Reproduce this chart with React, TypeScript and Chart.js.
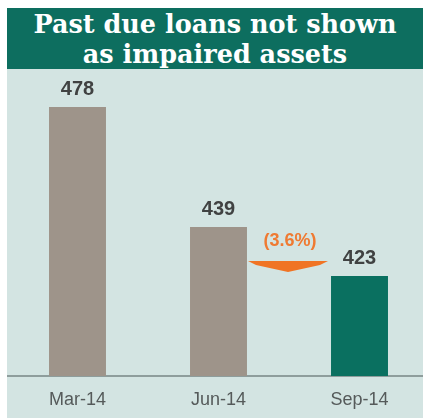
import React, { useEffect, useRef } from "react";
import { Chart, registerables } from "chart.js";

Chart.register(...registerables);

const categories = ["Mar-14", "Jun-14", "Sep-14"];
const values = [478, 439, 423];
const barColors = ["#9e948a", "#9e948a", "#0a7060"];
const changeLabel = "(3.6%)";
const titleLines = ["Past due loans not shown", "as impaired assets"];

const labelPlugin = {
  id: "valueLabels",
  afterDatasetsDraw(chart: any) {
    const ctx = chart.ctx;
    const meta = chart.getDatasetMeta(0);
    ctx.save();
    ctx.font = "bold 20px 'Liberation Sans', Arial, sans-serif";
    ctx.fillStyle = "#404242";
    ctx.textAlign = "center";
    ctx.textBaseline = "alphabetic";
    meta.data.forEach((bar: any, i: number) => {
      ctx.fillText(String(values[i]), bar.x, bar.y - 12);
    });
    // change arrow between last two bars
    const a = meta.data[1] as any;
    const b = meta.data[2] as any;
    const left = a.x + a.width / 2 + 1;
    const right = b.x - b.width / 2 - 3;
    const top = b.y - 15;
    const mid = (left + right) / 2;
    ctx.fillStyle = "#f07424";
    ctx.beginPath();
    ctx.moveTo(left, top);
    ctx.lineTo(right, top);
    ctx.lineTo(right - 8, top + 4);
    ctx.lineTo(mid, top + 11);
    ctx.lineTo(left + 8, top + 4);
    ctx.closePath();
    ctx.fill();
    ctx.font = "bold 18px 'Liberation Sans', Arial, sans-serif";
    ctx.fillStyle = "#ef7a32";
    ctx.fillText(changeLabel, mid + 2, top - 15);
    ctx.restore();
  },
};

export default function App() {
  const ref = useRef<HTMLCanvasElement>(null);
  useEffect(() => {
    document.body.style.margin = "0";
    document.body.style.overflow = "hidden";
    const chart = new Chart(ref.current as HTMLCanvasElement, {
      type: "bar",
      data: {
        labels: categories,
        datasets: [
          {
            data: values,
            backgroundColor: barColors,
            barPercentage: 0.404,
            categoryPercentage: 1,
          },
        ],
      },
      options: {
        animation: false,
        responsive: false,
        maintainAspectRatio: false,
        layout: { padding: { top: 11, left: 0, right: 0, bottom: 0 } },
        plugins: { legend: { display: false }, tooltip: { enabled: false }, title: { display: false } },
        scales: {
          x: {
            grid: { display: false, drawTicks: false },
            border: { display: true, color: "#8e9d9c", width: 2 },
            ticks: {
              color: "#555a5a",
              font: { family: "'Liberation Sans', Arial, sans-serif", size: 18 },
              padding: 13,
            },
            afterFit: (scale: any) => {
              scale.height = 42;
            },
          },
          y: {
            display: false,
            min: 390.5,
            max: 486.8,
          },
        },
      },
      plugins: [labelPlugin],
    });
    return () => chart.destroy();
  }, []);

  return (
    <div style={{ position: "relative", width: 423, height: 418, background: "#ffffff", overflow: "hidden" }}>
      <div
        style={{
          position: "absolute",
          left: 7,
          top: 8,
          width: 416,
          height: 410,
          background: "#d3e4e2",
          overflow: "hidden",
        }}
      >
        <div
          style={{
            position: "absolute",
            left: 0,
            top: 0,
            width: 416,
            height: 61,
            background: "#0d6e5f",
            color: "#ffffff",
            textAlign: "center",
            fontFamily: "'DejaVu Serif', Georgia, serif",
            fontWeight: "bold",
            fontSize: 25.5,
            lineHeight: "30px",
            paddingTop: 1,
            boxSizing: "border-box",
            whiteSpace: "nowrap",
          }}
        >
          {titleLines.map((t) => (
            <div key={t}>{t}</div>
          ))}
        </div>
        <canvas
          ref={ref}
          width={423}
          height={349}
          style={{ position: "absolute", left: 0, top: 61, width: 423, height: 349 }}
        />
      </div>
    </div>
  );
}
